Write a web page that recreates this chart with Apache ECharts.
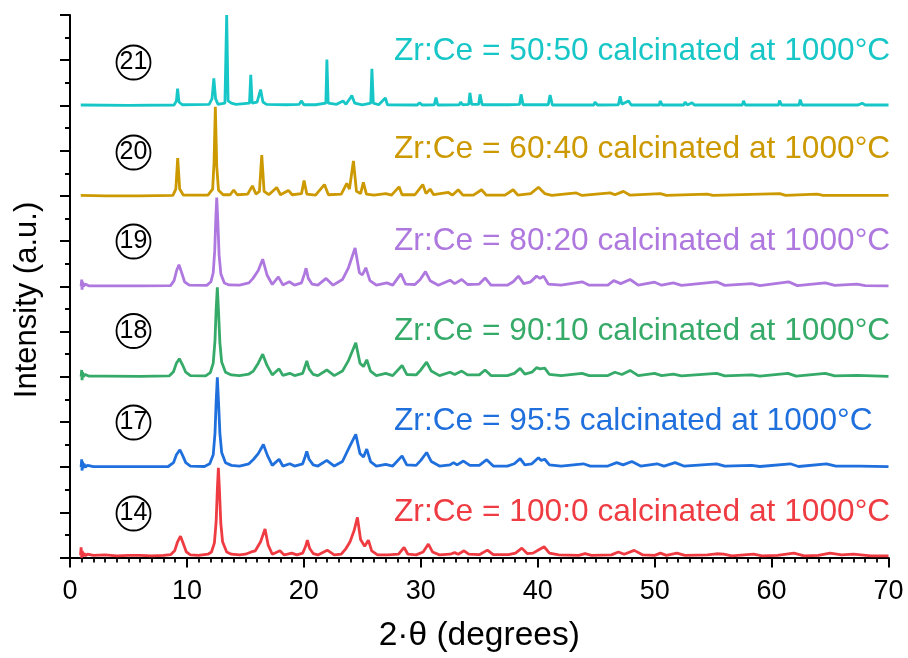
<!DOCTYPE html>
<html>
<head>
<meta charset="utf-8">
<script src="https://cdn.jsdelivr.net/npm/echarts@6/dist/echarts.min.js"></script>
<style>html,body{margin:0;padding:0;background:#fff}#c{width:908px;height:658px}</style>
</head>
<body>
<div id="c"></div>
<script>
// ---- data (2θ in degrees, intensity in stacked-axis units relative to each pattern's baseline) ----
const sampleIds = ['14', '17', '18', '19', '20', '21'];
const sampleLabels = [
  'Zr:Ce = 100:0 calcinated at 1000°C',
  'Zr:Ce = 95:5 calcinated at 1000°C',
  'Zr:Ce = 90:10 calcinated at 1000°C',
  'Zr:Ce = 80:20 calcinated at 1000°C',
  'Zr:Ce = 60:40 calcinated at 1000°C',
  'Zr:Ce = 50:50 calcinated at 1000°C'
];
const sampleColors = ['#EF3B42', '#1F6FDD', '#36AA68', '#AE78DF', '#CC9900', '#17C6C6'];
const baselineOffsets = [0, 4, 8, 12, 16, 20];
const xTicks = [0, 10, 20, 30, 40, 50, 60, 70];

const pattern14 = [[0.9,0.1],[0.95,0.45],[1.0,0.0],[1.05,0.3],[1.1,0.05],[1.2,0.2],[1.3,0.08],[1.5,0.15],[2,0.1],[3,0.12],[4,0.08],[5,0.1],[6,0.1],[7,0.08],[8,0.1],[8.6,0.13],[8.95,0.3],[9.2,0.7],[9.45,0.95],[9.7,0.6],[9.95,0.25],[10.3,0.12],[11,0.1],[11.8,0.15],[12.1,0.25],[12.35,0.65],[12.5,1.6],[12.6,3.0],[12.69,3.97],[12.78,3.0],[12.9,1.5],[13.05,0.7],[13.4,0.25],[13.8,0.15],[14.5,0.12],[15.0,0.15],[15.5,0.25],[15.85,0.3],[16.3,0.7],[16.68,1.27],[16.95,0.55],[17.3,0.15],[17.96,0.3],[18.3,0.12],[18.6,0.15],[18.96,0.2],[19.4,0.12],[19.9,0.2],[20.15,0.5],[20.3,0.77],[20.5,0.4],[20.8,0.18],[21.2,0.12],[22.0,0.33],[22.6,0.12],[23.2,0.15],[23.6,0.4],[23.95,0.7],[24.3,1.2],[24.58,1.78],[24.85,0.8],[25.2,0.5],[25.52,0.77],[25.8,0.3],[26.3,0.12],[27.2,0.12],[28.1,0.15],[28.57,0.45],[28.9,0.15],[29.6,0.12],[30.2,0.25],[30.65,0.6],[31.0,0.25],[31.6,0.12],[32.5,0.15],[32.9,0.22],[33.2,0.15],[33.7,0.3],[34.1,0.15],[35,0.13],[35.7,0.33],[36.2,0.13],[37.5,0.13],[38.1,0.2],[38.64,0.42],[39.1,0.18],[39.6,0.2],[40.1,0.35],[40.55,0.48],[41.0,0.2],[41.8,0.12],[43.5,0.1],[44.05,0.18],[44.6,0.1],[46.3,0.12],[46.9,0.25],[47.4,0.15],[48.25,0.32],[49.0,0.12],[50.0,0.1],[50.5,0.2],[51.0,0.1],[51.9,0.2],[52.6,0.1],[54.5,0.12],[55.3,0.17],[55.9,0.15],[56.6,0.08],[58.45,0.15],[59.2,0.08],[60.5,0.1],[61.9,0.2],[62.8,0.08],[64.0,0.1],[65.0,0.2],[66.0,0.12],[67.0,0.15],[68.5,0.08],[70,0.08]];

const pattern17 = [[0.95,0.0],[1.0,0.35],[1.03,-0.15],[1.08,0.25],[1.12,-0.05],[1.2,0.15],[1.3,0.0],[1.5,0.08],[2,0.02],[3,0.02],[5,0.02],[7,0.02],[8.4,0.03],[8.85,0.2],[9.1,0.55],[9.4,0.77],[9.65,0.5],[9.9,0.2],[10.3,0.05],[11.5,0.03],[11.95,0.15],[12.25,0.55],[12.4,1.5],[12.5,2.9],[12.6,3.97],[12.7,2.9],[12.82,1.5],[12.97,0.65],[13.3,0.2],[13.8,0.08],[14.5,0.05],[15.3,0.15],[15.7,0.35],[16.1,0.6],[16.54,1.0],[16.9,0.5],[17.3,0.08],[17.88,0.35],[18.2,0.05],[18.8,0.15],[19.2,0.05],[19.9,0.15],[20.1,0.45],[20.25,0.7],[20.45,0.35],[20.8,0.1],[21.2,0.05],[21.96,0.3],[22.6,0.05],[23.3,0.25],[23.9,0.9],[24.44,1.45],[24.8,0.6],[25.1,0.45],[25.38,0.8],[25.7,0.25],[26.2,0.05],[27.0,0.12],[27.6,0.05],[28.4,0.5],[28.8,0.1],[29.6,0.08],[30.0,0.3],[30.5,0.65],[30.9,0.25],[31.6,0.05],[32.5,0.1],[32.8,0.2],[33.1,0.1],[33.65,0.27],[34.2,0.08],[35.0,0.08],[35.64,0.33],[36.2,0.05],[37.4,0.05],[38.0,0.15],[38.5,0.38],[38.9,0.1],[39.5,0.15],[40.06,0.42],[40.3,0.3],[40.6,0.35],[41.0,0.1],[42.0,0.05],[43.9,0.15],[44.5,0.05],[46.0,0.05],[46.76,0.2],[47.3,0.1],[48.05,0.25],[48.8,0.05],[50.2,0.15],[50.8,0.05],[51.75,0.2],[52.5,0.05],[55.3,0.15],[56.0,0.05],[58.3,0.08],[59.0,0.03],[61.6,0.15],[62.3,0.03],[64.7,0.15],[65.5,0.05],[67.5,0.05],[70,0.02]];

const pattern18 = [[0.95,0.0],[1.0,0.3],[1.03,-0.15],[1.08,0.2],[1.15,0.0],[1.3,0.1],[1.6,0.03],[3,0.03],[6,0.02],[8.5,0.04],[8.85,0.22],[9.1,0.6],[9.35,0.8],[9.6,0.55],[9.9,0.2],[10.3,0.05],[11.6,0.04],[12.0,0.18],[12.25,0.6],[12.4,1.6],[12.5,3.0],[12.6,3.95],[12.7,2.9],[12.82,1.5],[12.97,0.65],[13.3,0.2],[13.8,0.08],[14.5,0.05],[15.3,0.12],[15.68,0.25],[16.1,0.6],[16.48,1.0],[16.85,0.5],[17.3,0.08],[17.88,0.35],[18.2,0.06],[18.8,0.15],[19.2,0.05],[19.9,0.15],[20.1,0.45],[20.25,0.7],[20.45,0.35],[20.8,0.1],[21.2,0.05],[21.96,0.3],[22.6,0.05],[23.3,0.25],[23.8,0.7],[24.44,1.5],[24.8,0.6],[25.1,0.45],[25.38,0.75],[25.7,0.25],[26.2,0.05],[27.0,0.15],[27.6,0.05],[28.4,0.5],[28.8,0.1],[29.6,0.08],[30.0,0.3],[30.5,0.65],[30.9,0.25],[31.6,0.05],[32.5,0.2],[32.9,0.1],[33.5,0.25],[34.0,0.08],[35.0,0.08],[35.5,0.3],[36.0,0.05],[37.4,0.05],[38.0,0.15],[38.5,0.37],[38.9,0.12],[39.5,0.2],[39.9,0.4],[40.2,0.35],[40.6,0.38],[41.0,0.1],[42.0,0.05],[43.8,0.15],[44.4,0.05],[46.0,0.05],[46.6,0.2],[47.2,0.1],[47.9,0.28],[48.6,0.05],[50.0,0.15],[50.6,0.05],[51.6,0.12],[52.3,0.04],[55.3,0.15],[56.0,0.04],[58.3,0.08],[59,0.03],[61.4,0.15],[62.1,0.03],[64.6,0.15],[65.4,0.04],[67.3,0.06],[70,0.02]];

const pattern19 = [[0.95,0.0],[1.0,0.3],[1.03,-0.15],[1.08,0.2],[1.15,0.0],[1.3,0.1],[1.6,0.02],[3,0.02],[6,0.02],[8.6,0.03],[8.9,0.25],[9.12,0.7],[9.32,0.95],[9.52,0.65],[9.8,0.2],[10.2,0.05],[11.7,0.04],[12.05,0.2],[12.25,0.6],[12.38,1.6],[12.47,3.0],[12.55,3.93],[12.64,2.9],[12.75,1.4],[12.9,0.55],[13.2,0.15],[13.6,0.06],[14.5,0.05],[15.3,0.15],[15.65,0.35],[16.1,0.7],[16.48,1.2],[16.85,0.5],[17.3,0.08],[17.82,0.42],[18.2,0.06],[18.76,0.2],[19.2,0.05],[19.8,0.15],[20.05,0.55],[20.19,0.8],[20.38,0.35],[20.7,0.1],[21.2,0.05],[21.9,0.35],[22.5,0.05],[23.3,0.3],[23.8,0.8],[24.38,1.7],[24.75,0.6],[25.0,0.5],[25.3,0.82],[25.65,0.25],[26.2,0.05],[27.1,0.15],[27.6,0.05],[28.3,0.55],[28.7,0.1],[29.5,0.08],[29.95,0.3],[30.4,0.65],[30.8,0.25],[31.5,0.05],[32.5,0.27],[32.9,0.12],[33.5,0.3],[34.0,0.08],[35.0,0.1],[35.5,0.37],[36.0,0.05],[37.4,0.05],[37.9,0.2],[38.35,0.45],[38.8,0.12],[39.4,0.2],[39.9,0.45],[40.2,0.35],[40.5,0.45],[40.9,0.1],[42.0,0.05],[43.8,0.2],[44.4,0.05],[46.0,0.05],[46.5,0.25],[47.1,0.12],[47.9,0.3],[48.6,0.05],[50.0,0.18],[50.6,0.05],[51.6,0.15],[52.3,0.04],[55.3,0.2],[56.0,0.04],[58.3,0.12],[59.0,0.03],[61.45,0.2],[62.2,0.03],[64.6,0.15],[65.4,0.04],[67.3,0.1],[68,0.03],[70,0.02]];

const pattern20 = [[0.92,0.02],[3,0.0],[6,0.0],[8.8,0.02],[9.05,0.3],[9.21,1.67],[9.38,0.3],[9.7,0.03],[11.8,0.03],[12.2,0.3],[12.32,1.5],[12.43,3.94],[12.55,1.3],[12.7,0.25],[13.1,0.05],[13.7,0.05],[14.0,0.26],[14.3,0.05],[15.2,0.08],[15.6,0.44],[15.9,0.08],[16.2,0.2],[16.4,1.8],[16.6,0.2],[17.0,0.05],[17.68,0.37],[18.0,0.05],[18.68,0.24],[19.0,0.05],[19.8,0.1],[20.02,0.68],[20.25,0.08],[21.0,0.03],[21.76,0.5],[22.1,0.05],[23.2,0.08],[23.67,0.55],[23.9,0.3],[24.24,1.55],[24.5,0.2],[24.85,0.1],[25.09,0.6],[25.35,0.08],[26.0,0.03],[27.0,0.1],[27.5,0.03],[28.14,0.4],[28.4,0.05],[29.5,0.05],[30.17,0.5],[30.45,0.1],[30.8,0.3],[31.1,0.05],[32.36,0.15],[32.7,0.03],[33.2,0.27],[33.6,0.03],[34.5,0.03],[35.2,0.27],[35.6,0.03],[37.2,0.03],[37.9,0.27],[38.3,0.03],[39.4,0.1],[40.06,0.38],[40.6,0.1],[41.2,0.02],[43.3,0.13],[43.8,0.02],[46.2,0.13],[46.6,0.05],[47.33,0.2],[47.9,0.03],[50.5,0.1],[51.0,0.02],[54.5,0.08],[55,0.02],[60.7,0.1],[61.2,0.02],[63.9,0.08],[64.4,0.02],[70,0.02]];

const pattern21 = [[0.92,0.02],[5,0.0],[8.9,0.02],[9.1,0.2],[9.2,0.74],[9.32,0.15],[9.6,0.03],[11.9,0.05],[12.15,0.3],[12.3,1.2],[12.45,0.3],[12.65,0.05],[13.25,0.1],[13.4,4.0],[13.52,0.2],[13.8,0.1],[14.2,0.05],[15.35,0.1],[15.46,1.35],[15.58,0.1],[16.0,0.15],[16.3,0.7],[16.5,0.15],[16.8,0.05],[18.5,0.03],[19.6,0.05],[19.8,0.2],[20.0,0.03],[21.0,0.03],[21.88,0.1],[21.97,2.03],[22.08,0.1],[22.8,0.05],[23.35,0.2],[23.6,0.05],[24.0,0.35],[24.1,0.44],[24.35,0.1],[25.0,0.03],[25.72,0.1],[25.82,1.62],[25.94,0.1],[26.4,0.03],[26.97,0.33],[27.15,0.03],[29.7,0.02],[29.9,0.12],[30.1,0.02],[31.15,0.03],[31.3,0.35],[31.45,0.02],[33.3,0.03],[33.4,0.15],[33.6,0.03],[34.1,0.05],[34.2,0.56],[34.35,0.05],[34.95,0.05],[35.07,0.49],[35.25,0.03],[37.5,0.03],[38.45,0.05],[38.58,0.49],[38.75,0.03],[40.9,0.03],[41.06,0.46],[41.25,0.02],[44.8,0.02],[44.9,0.15],[45.1,0.02],[46.9,0.03],[47.05,0.4],[47.2,0.05],[47.76,0.2],[48.0,0.02],[50.4,0.02],[50.47,0.2],[50.65,0.02],[52.5,0.02],[52.6,0.15],[52.8,0.02],[53.2,0.12],[53.4,0.02],[57.5,0.02],[57.6,0.2],[57.75,0.02],[60.6,0.02],[60.68,0.22],[60.85,0.02],[62.35,0.02],[62.45,0.26],[62.6,0.02],[67.05,0.02],[67.15,0.1],[67.4,0.02],[67.75,0.1],[68.0,0.02],[70,0.02]];

const patterns = [pattern14, pattern17, pattern18, pattern19, pattern20, pattern21];

// ---- chart ----
const FONT = '"Liberation Sans", Arial, sans-serif';
const chart = echarts.init(document.getElementById('c'), null, {renderer: 'canvas'});

const majorY = [], minorY = [];
for (let v = 0; v <= 24; v++) (v % 2 === 0 ? majorY : minorY).push(v);

const series = patterns.map((p, i) => ({
  type: 'line',
  name: sampleLabels[i],
  data: p.map(d => [d[0], d[1] + baselineOffsets[i]]),
  showSymbol: false,
  symbol: 'none',
  lineStyle: {color: sampleColors[i], width: 2.8},
  itemStyle: {color: sampleColors[i]},
  z: 10 - i,
  animation: false
}));

const labelCenters = [512, 421, 331, 241, 149, 51];
const circleCenters = [513.5, 422.5, 331, 241.5, 152.5, 62.5];
const graphics = [];
sampleLabels.forEach((t, i) => {
  graphics.push({
    type: 'text', x: 394, y: labelCenters[i],
    style: {text: t, fill: sampleColors[i], font: '31.7px ' + FONT, verticalAlign: 'middle', align: 'left'}
  });
  graphics.push({
    type: 'text', x: 133.5, y: circleCenters[i],
    style: {
      text: sampleIds[i], fill: '#000', font: '25px ' + FONT,
      width: 34, height: 34, lineHeight: 34,
      align: 'center', verticalAlign: 'middle',
      borderColor: '#000', borderWidth: 1.8, borderRadius: 17
    }
  });
});
graphics.push({
  type: 'text', x: 27, y: 300, rotation: Math.PI / 2,
  style: {text: 'Intensity (a.u.)', fill: '#000', font: '31px ' + FONT, align: 'center', verticalAlign: 'middle'}
});

chart.setOption({
  animation: false,
  backgroundColor: '#fff',
  grid: {left: 70, right: 19.5, top: 15, bottom: 95.5, containLabel: false},
  xAxis: {
    type: 'value', min: 0, max: 70, interval: 10,
    axisLine: {show: true, lineStyle: {color: '#000', width: 2}},
    axisTick: {show: true, length: 10, inside: false, lineStyle: {color: '#000', width: 2}},
    minorTick: {show: true, splitNumber: 10, length: 5, lineStyle: {color: '#000', width: 1.8}},
    splitLine: {show: false},
    axisLabel: {show: true, color: '#000', fontSize: 27, fontFamily: FONT, margin: 17,
      customValues: xTicks},
    name: '2·θ (degrees)', nameLocation: 'middle', nameGap: 58,
    nameTextStyle: {color: '#000', fontSize: 33.5, fontFamily: FONT}
  },
  yAxis: [{
    type: 'value', min: -0.15, max: 24,
    axisLine: {show: true, lineStyle: {color: '#000', width: 2}},
    axisTick: {show: true, length: 10, inside: false, customValues: majorY, lineStyle: {color: '#000', width: 2}},
    axisLabel: {show: false},
    splitLine: {show: false}
  }, {
    type: 'value', min: -0.15, max: 24, position: 'left',
    axisLine: {show: false},
    axisTick: {show: true, length: 5, inside: false, customValues: minorY, lineStyle: {color: '#000', width: 2}},
    axisLabel: {show: false},
    splitLine: {show: false}
  }],
  graphic: graphics,
  series: series
});
</script>
</body>
</html>
